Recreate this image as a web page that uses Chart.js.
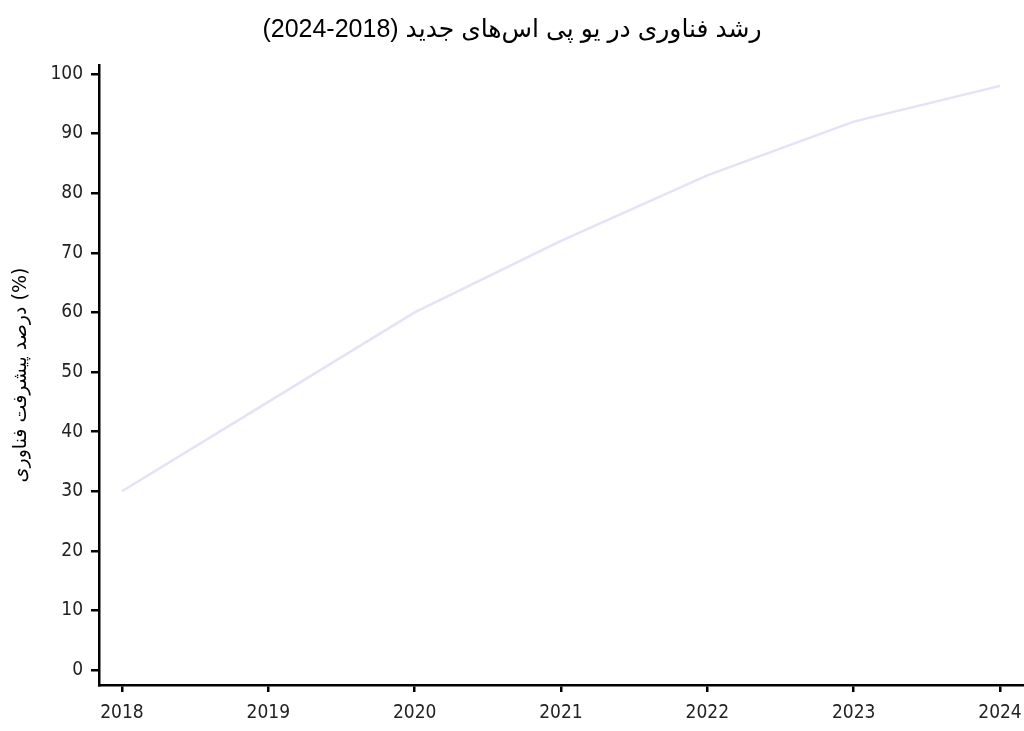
<!DOCTYPE html>
<html>
<head>
<meta charset="utf-8">
<script src="https://cdn.jsdelivr.net/npm/chart.js@4/dist/chart.umd.min.js"></script>
<style>
  html, body { margin: 0; padding: 0; background: #fff; }
  #wrap { width: 1024px; height: 731px; }
</style>
</head>
<body>
<div id="wrap"><canvas id="growthChart"></canvas></div>
<script>
const years = [2018, 2019, 2020, 2021, 2022, 2023, 2024];
const progress = [30, 45, 60, 72, 83, 92, 98];
const yTicks = [0, 10, 20, 30, 40, 50, 60, 70, 80, 90, 100];
const chartTitle = '(2024-2018) رشد فناوری در یو پی اس‌های جدید';
const yTitle = 'درصد پیشرفت فناوری (%)';

const tickFont = { family: 'DejaVu Sans Condensed, DejaVu Sans', size: 19 };

function createGrowthChart() {
    const ctx = document.getElementById('growthChart').getContext('2d');
    const points = years.map((y, i) => ({ x: y, y: progress[i] }));

    window.growthChart = new Chart(ctx, {
        type: 'line',
        data: {
            datasets: [{
                data: points,
                borderColor: '#e4e2f8',
                borderWidth: 2.5,
                pointRadius: 0,
                tension: 0,
                fill: false
            }]
        },
        options: {
            responsive: true,
            maintainAspectRatio: false,
            animation: false,
            layout: { padding: { left: 0, right: 0, top: 0, bottom: 0 } },
            plugins: {
                legend: { display: false },
                tooltip: { enabled: false },
                title: {
                    display: true,
                    text: chartTitle,
                    color: '#000',
                    font: { family: 'Liberation Sans, DejaVu Sans', size: 25, weight: 'normal' },
                    padding: { top: 15, bottom: 20 }
                }
            },
            scales: {
                x: {
                    type: 'linear',
                    min: 2017.843,
                    max: 2024.164,
                    afterBuildTicks: s => { s.ticks = years.map(v => ({ value: v })); },
                    afterFit: s => { s.height = 46; s.paddingLeft = 0; s.paddingRight = 0; },
                    border: { display: true, color: '#000', width: 2.5 },
                    grid: { display: true, drawOnChartArea: false, color: '#000', lineWidth: 2.5, tickLength: 7 },
                    ticks: { color: '#222', font: tickFont, padding: 10, maxRotation: 0, callback: v => String(v) }
                },
                y: {
                    type: 'linear',
                    min: -2.5,
                    max: 101.5,
                    afterBuildTicks: s => { s.ticks = yTicks.map(v => ({ value: v })); },
                    afterFit: s => { s.width = 99; s.paddingTop = 0; s.paddingBottom = 0; },
                    border: { display: true, color: '#000', width: 2.5 },
                    grid: { display: true, drawOnChartArea: false, color: '#000', lineWidth: 2.5, tickLength: 8 },
                    ticks: { color: '#222', font: tickFont, padding: 8 },
                    title: {
                        display: true,
                        text: yTitle,
                        color: '#000',
                        font: { family: 'DejaVu Sans', size: 19 },
                        padding: { top: 10, bottom: 0 }
                    }
                }
            }
        }
    });
}

window.addEventListener('DOMContentLoaded', createGrowthChart);
</script>
</body>
</html>
